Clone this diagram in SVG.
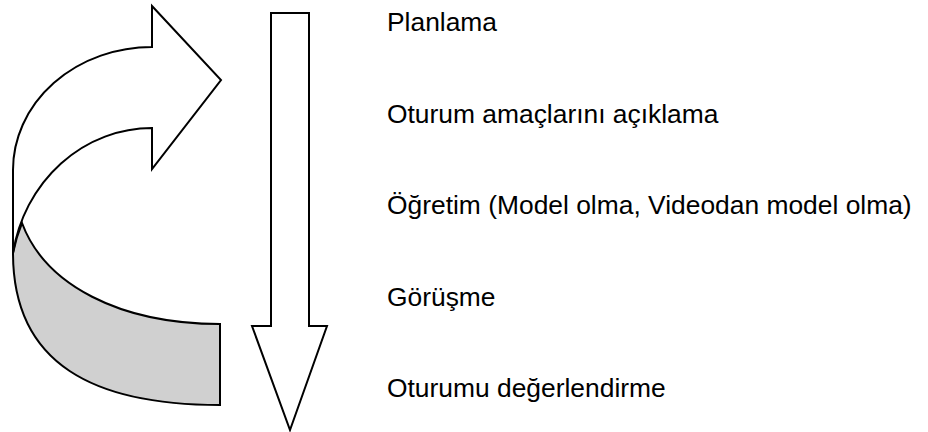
<svg xmlns="http://www.w3.org/2000/svg" width="928" height="432" viewBox="0 0 928 432">
<style>
.s{stroke:#000;stroke-width:2;stroke-linejoin:miter;}
.w{fill:#fff;}
.g{fill:#d0d0d0;}
.t{font-family:"Liberation Sans",Arial,sans-serif;font-size:26.4px;fill:#000;}
</style>
<rect width="928" height="432" fill="#fff"/>
<g id="curved-arrow">
<path class="s g" d="M22,223 A141,150 0 0 0 13,253 C13,365 95,405 220,405 L220,324 C120,324 45,285 22,223 Z"/>
<path class="s w" d="M152,6 L221,80 L152,169 L152,128 A141,150 0 0 0 13,253 L13,170 A139,123 0 0 1 152,47 Z"/>
</g>
<g id="down-arrow">
<path class="s w" d="M271,13 L309,13 L309,326 L327,326 L290,430 L252,326 L271,326 Z"/>
</g>
<g id="step-1"><text class="t" x="387" y="31">Planlama</text></g>
<g id="step-2"><text class="t" x="387" y="122.5">Oturum amaçlarını açıklama</text></g>
<g id="step-3"><text class="t" x="387" y="214">Öğretim (Model olma, Videodan model olma)</text></g>
<g id="step-4"><text class="t" x="387" y="305.5">Görüşme</text></g>
<g id="step-5"><text class="t" x="387" y="397">Oturumu değerlendirme</text></g>
</svg>
